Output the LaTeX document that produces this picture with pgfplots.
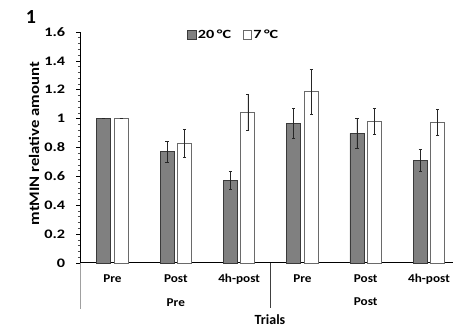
\documentclass[border=0pt]{standalone}
\usepackage{fontspec}
\setmainfont{Carlito}
\usepackage{graphicx}
\usepackage{pgfplots}
\usepackage{pgfplotstable}
\pgfplotsset{compat=1.18}
\definecolor{barg}{HTML}{808080}
\definecolor{bargdark}{HTML}{3A3A3A}
\definecolor{barwline}{HTML}{6A6A6A}
\definecolor{sepg}{HTML}{A0A0A0}
\pgfplotstableread{
x y e
0 1.000 0
1 0.771 0.072
2 0.573 0.060
3 0.967 0.104
4 0.898 0.105
5 0.711 0.076
}\warm
\pgfplotstableread{
x y e
0 1.000 0
1 0.829 0.097
2 1.044 0.124
3 1.186 0.155
4 0.981 0.090
5 0.972 0.090
}\cold
\begin{document}
\begin{tikzpicture}
\begin{axis}[
  x=63.3bp, y=144.375bp,
  xmin=-0.5, xmax=5.379, ymin=0, ymax=1.6,
  axis lines=left,
  axis line style={-, black, line width=1bp},
  clip=false,
  /pgf/number format/assume math mode=true,
  ytick={0,0.2,0.4,0.6,0.8,1,1.2,1.4,1.6},
  yticklabel={\scalebox{1.25}[1]{\pgfmathprintnumber{\tick}}},
  minor y tick num=4,
  tick align=outside,
  major tick length=4.5bp, minor tick length=3bp,
  ytick style={black, line width=0.7bp},
  minor y tick style={black!70, line width=0.6bp},
  yticklabel style={font=\fontsize{13bp}{15bp}\selectfont\bfseries, inner sep=0pt, anchor=east, xshift=-11bp},
  xtick={0,1,2,3,4,5},
  xticklabels={\scalebox{1.1}[1]{Pre},\scalebox{1.1}[1]{Post},\scalebox{1.1}[1]{4h-post},\scalebox{1.1}[1]{Pre},\scalebox{1.1}[1]{Post},\scalebox{1.1}[1]{4h-post}},
  xtick style={draw=none},
  xticklabel style={font=\fontsize{12bp}{14bp}\selectfont\bfseries, inner sep=0pt, anchor=base, yshift=-15bp},
  ylabel={\scalebox{1.15}[1]{mtMIN relative amount}},
  ylabel style={at={(axis cs:-1.240,0.8256)}, anchor=center, font=\fontsize{14.5bp}{16bp}\selectfont\bfseries},
  xlabel={Trials},
  xlabel style={at={(axis cs:2.488,-0.424)}, anchor=base, font=\fontsize{14bp}{16bp}\selectfont\bfseries},
  legend style={at={(axis cs:1.177,1.579)}, anchor=west, draw=none, fill=none,
    inner sep=0pt, font=\fontsize{12.5bp}{14bp}\selectfont\bfseries,
    /tikz/every even column/.append style={column sep=10bp},
    nodes={inner sep=1.5bp}},
  legend columns=2,
  legend image code/.code={\draw[#1] (0bp,-4.15bp) rectangle (8.3bp,4.15bp);},
]
\addplot[ybar, bar width=14bp, bar shift=0pt, fill=barg, draw=bargdark, line width=0.8bp,
  error bars/.cd, y dir=both, y explicit,
  error bar style={black!85, line width=0.7bp},
  error mark options={rotate=90, mark size=1.6bp, black!85, line width=0.7bp}]
  table[x expr=\thisrow{x}-0.1382, y=y, y error=e] {\warm};
\addlegendentry{\scalebox{1.3}[1]{20\,°C}}
\addplot[ybar, bar width=14bp, bar shift=0pt, fill=white, draw=barwline, line width=0.8bp,
  error bars/.cd, y dir=both, y explicit,
  error bar style={black!85, line width=0.7bp},
  error mark options={rotate=90, mark size=1.6bp, black!85, line width=0.7bp}]
  table[x expr=\thisrow{x}+0.1382, y=y, y error=e] {\cold};
\addlegendentry{\scalebox{1.3}[1]{7\,°C}}
\draw[sepg, line width=0.8bp] (axis cs:-0.5,0) -- (axis cs:-0.5,-0.3186);
\draw[black!75, line width=0.7bp] (axis cs:2.5,0) -- (axis cs:2.5,-0.3117);
\node[anchor=base, inner sep=0pt, font=\fontsize{12bp}{14bp}\selectfont\bfseries] at (axis cs:1,-0.2999) {\scalebox{1.1}[1]{Pre}};
\node[anchor=base, inner sep=0pt, font=\fontsize{12bp}{14bp}\selectfont\bfseries] at (axis cs:4,-0.291) {\scalebox{1.1}[1]{Post}};
\node[anchor=center, inner sep=0pt, font=\fontsize{20bp}{22bp}\selectfont\bfseries] at (axis cs:-1.2875,1.706) {1};
\coordinate (BL) at (axis cs:-1.7773,-0.4433);
\coordinate (TR) at (axis cs:5.379,1.8216);
\end{axis}
\pgfresetboundingbox
\path[use as bounding box] (BL) rectangle (TR);
\end{tikzpicture}
\end{document}
